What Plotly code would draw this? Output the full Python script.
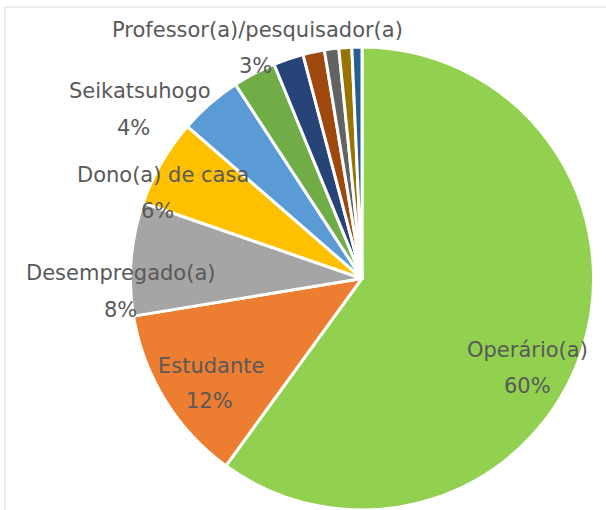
import plotly.graph_objects as go

# occupation categories (clockwise from 12 o'clock)
labels = ["Operário(a)", "Estudante", "Desempregado(a)", "Dono(a) de casa",
          "Seikatsuhogo", "Professor(a)/pesquisador(a)",
          "Outro 1", "Outro 2", "Outro 3", "Outro 4", "Outro 5"]
values = [60.0, 12.4, 7.9, 6.1, 4.4, 3.0, 2.1, 1.5, 1.0, 0.9, 0.7]
colors = ["#92D050", "#ED7D31", "#A5A5A5", "#FFC000", "#5B9BD5", "#70AD47",
          "#264478", "#9E480E", "#636363", "#997300", "#255E91"]

# where the data labels sit (pixels, name line / percent line)
label_pos = {
    "Operário(a)": [(527, 350), (527, 386)],
    "Estudante": [(211, 366), (210, 401)],
    "Desempregado(a)": [(120, 273), (120, 310)],
    "Dono(a) de casa": [(163, 175), (157, 211)],
    "Seikatsuhogo": [(140, 91), (133, 128)],
    "Professor(a)/pesquisador(a)": [(257, 30), (255, 66)],
}

W, H = 606, 510
total = sum(values)

fig = go.Figure()
fig.add_trace(go.Pie(
    labels=labels,
    values=values,
    sort=False,
    direction="clockwise",
    rotation=0,
    marker=dict(colors=colors, line=dict(color="white", width=3)),
    textinfo="none",
    hoverinfo="label+percent",
    showlegend=False,
    domain=dict(x=[0.2129, 0.9818], y=[0.0, 0.908]),
))

font = dict(family="DejaVu Sans", size=21, color="#595959")
annotations = []
for lab, val in zip(labels, values):
    if lab not in label_pos:
        continue
    (nx, ny), (px_, py_) = label_pos[lab]
    annotations.append(dict(x=nx / W, y=1 - ny / H, xref="paper", yref="paper",
                            text=lab, showarrow=False, font=font,
                            xanchor="center", yanchor="middle"))
    annotations.append(dict(x=px_ / W, y=1 - py_ / H, xref="paper", yref="paper",
                            text=f"{round(val / total * 100)}%", showarrow=False,
                            font=font, xanchor="center", yanchor="middle"))

fig.update_layout(
    width=W, height=H,
    margin=dict(l=0, r=0, t=0, b=0),
    paper_bgcolor="white",
    plot_bgcolor="white",
    annotations=annotations,
    shapes=[dict(type="rect", xref="paper", yref="paper",
                 x0=5 / W, x1=1.05, y0=-0.05, y1=1 - 7 / H,
                 line=dict(color="#D9D9D9", width=1))],
)

fig.write_html("out.html", config={"displayModeBar": False},
               post_script="document.body.style.margin='0px';")
